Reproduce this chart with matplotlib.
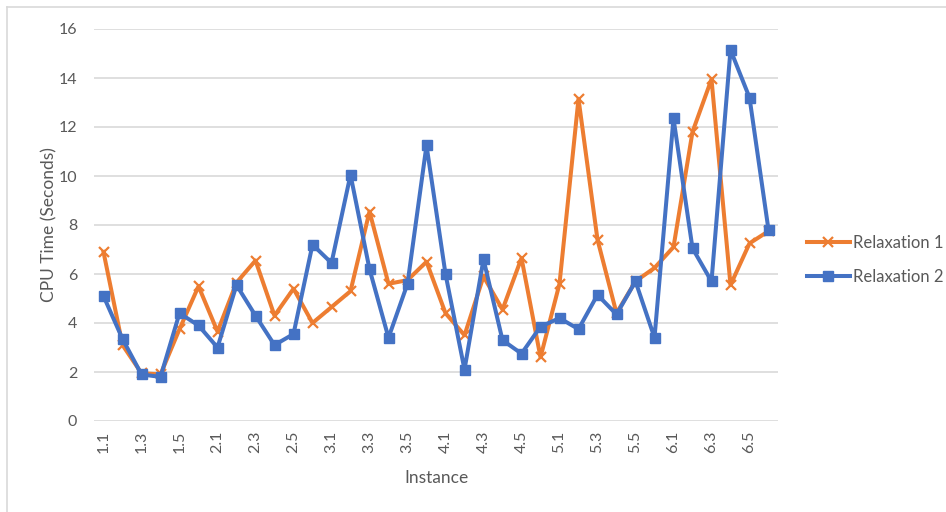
import matplotlib
matplotlib.use("Agg")
import matplotlib.pyplot as plt
from matplotlib.lines import Line2D

plt.rcParams['font.family'] = ['Lato', 'DejaVu Sans']

# instance ids 1.1 .. 6.6
instances = [f"{g}.{k}" for g in range(1, 7) for k in range(1, 7)]

relax1 = [6.9, 3.1, 1.95, 1.9, 3.75, 5.5, 3.65, 5.65, 6.55, 4.3, 5.4, 4.0,
          4.65, 5.3, 8.55, 5.6, 5.75, 6.5, 4.4, 3.5, 5.9, 4.55, 6.65, 2.6,
          5.6, 13.15, 7.4, 4.4, 5.7, 6.25, 7.1, 11.8, 13.95, 5.55, 7.25, 7.75]
relax2 = [5.1, 3.35, 1.9, 1.8, 4.4, 3.9, 3.0, 5.55, 4.3, 3.1, 3.55, 7.2,
          6.45, 10.05, 6.2, 3.4, 5.6, 11.25, 6.0, 2.1, 6.6, 3.3, 2.75, 3.85,
          4.2, 3.75, 5.15, 4.35, 5.7, 3.4, 12.35, 7.05, 5.7, 15.15, 13.2, 7.8]

orange = '#ED7D31'
blue = '#4472C4'
grey = '#595959'

fig = plt.figure(figsize=(9.46, 5.12), dpi=100)
ax = fig.add_axes([94 / 946, 1 - 421 / 512, (778 - 94) / 946, (421 - 29) / 512])

x = list(range(len(instances)))
ax.plot(x, relax1, color=orange, lw=2.9, marker='x', ms=7, mew=1.6,
        label='Relaxation 1', zorder=3)
ax.plot(x, relax2, color=blue, lw=2.9, marker='s', ms=7.5,
        label='Relaxation 2', zorder=4)

ax.set_xlim(-0.5, len(instances) - 0.5)
ax.set_ylim(0, 16)
ax.set_yticks(range(0, 17, 2))
ax.set_xticks(x[::2])
ax.set_xticklabels(instances[::2], rotation=90)
ax.grid(axis='y', color='#D9D9D9', lw=1.2)
ax.set_axisbelow(True)
for s in ax.spines.values():
    s.set_visible(False)
ax.tick_params(length=0, colors=grey, labelsize=11.5)
ax.tick_params(axis='y', pad=12)
ax.tick_params(axis='x', pad=7)

ax.set_xlabel('Instance', color=grey, fontsize=12.5, labelpad=12)
ax.set_ylabel('CPU Time (Seconds)', color=grey, fontsize=12.5, labelpad=1)

ax.legend(loc='center left', bbox_to_anchor=(800 / 946, 1 - 260 / 512),
          bbox_transform=fig.transFigure, frameon=False, fontsize=12,
          labelcolor=grey, handlelength=2.6, handletextpad=0.2,
          labelspacing=1.1, borderaxespad=0)

# thin frame along the top and left edges
fig.add_artist(Line2D([7 / 946, 7 / 946], [0, 1 - 7 / 512],
                      transform=fig.transFigure, color='#D9D9D9', lw=1.2))
fig.add_artist(Line2D([7 / 946, 1], [1 - 7 / 512, 1 - 7 / 512],
                      transform=fig.transFigure, color='#D9D9D9', lw=1.2))

fig.savefig('out.png', dpi=100)
